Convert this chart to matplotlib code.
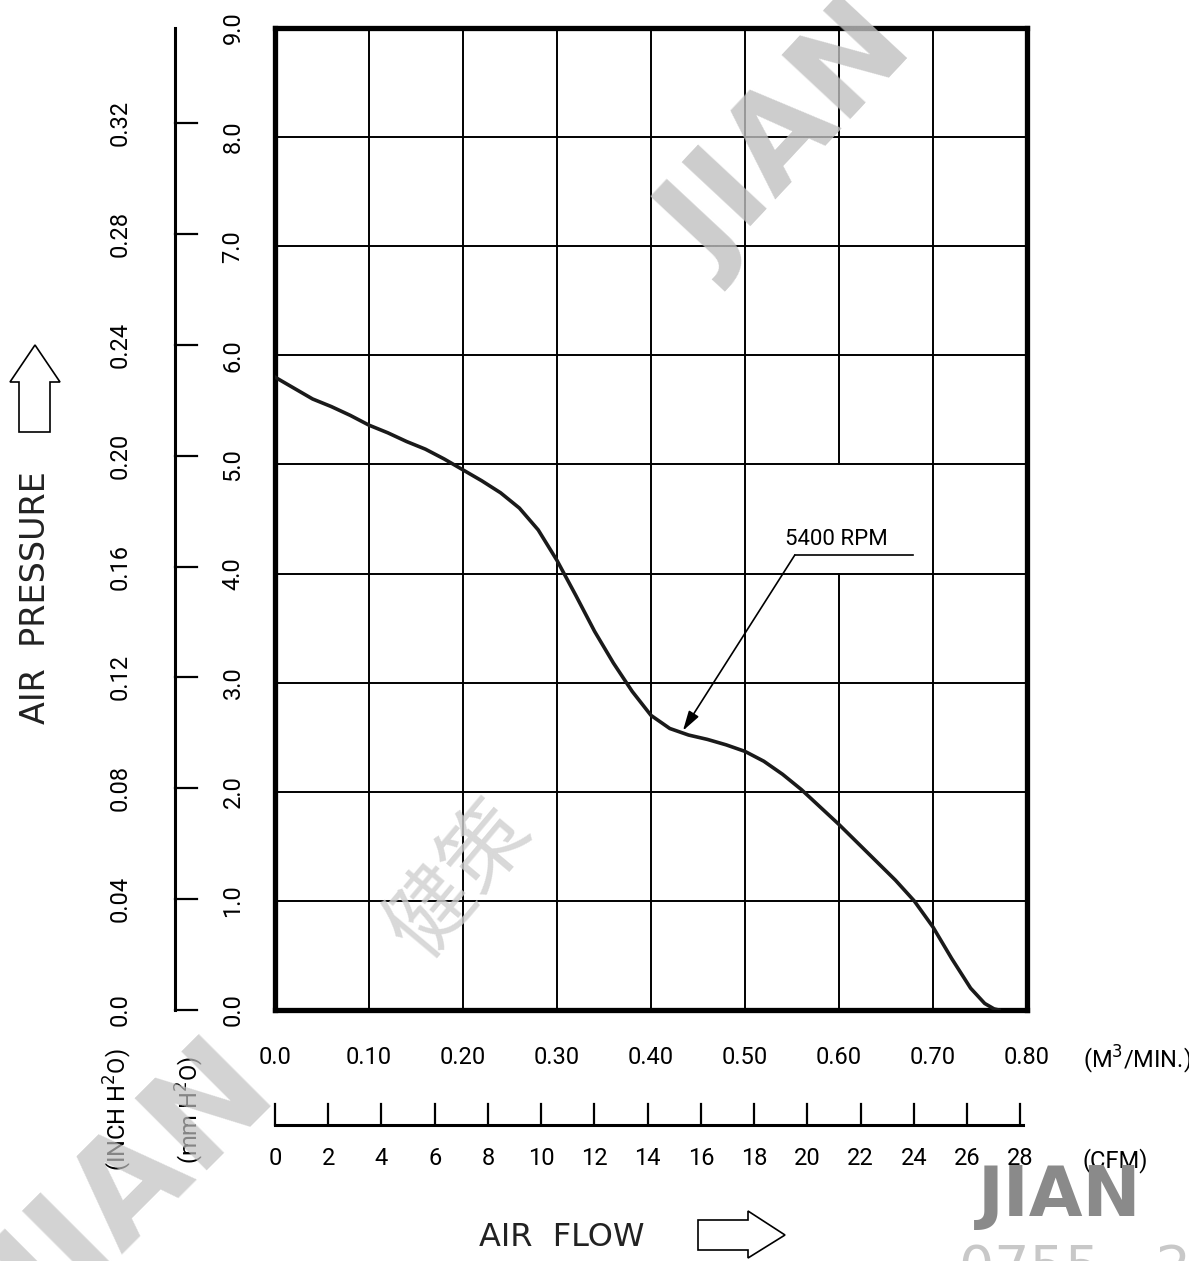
import numpy as np
import matplotlib
matplotlib.use("Agg")
import matplotlib.pyplot as plt
from matplotlib.patches import Polygon

# P-Q curve, 5400 RPM (flow in m3/min, pressure in mm H2O)
flow = [0.0, 0.02, 0.04, 0.06, 0.08, 0.10, 0.12, 0.14, 0.16, 0.18, 0.20,
        0.22, 0.24, 0.26, 0.28, 0.30, 0.32, 0.34, 0.36, 0.38, 0.40, 0.42,
        0.44, 0.46, 0.48, 0.50, 0.52, 0.54, 0.56, 0.58, 0.60, 0.62, 0.64,
        0.66, 0.68, 0.70, 0.72, 0.74, 0.755, 0.765, 0.77]
pressure = [5.80, 5.70, 5.60, 5.53, 5.45, 5.36, 5.29, 5.21, 5.14, 5.05, 4.95,
            4.85, 4.74, 4.60, 4.40, 4.12, 3.80, 3.47, 3.18, 2.92, 2.70, 2.58,
            2.52, 2.48, 2.43, 2.37, 2.28, 2.16, 2.02, 1.86, 1.70, 1.53, 1.36,
            1.19, 1.00, 0.76, 0.47, 0.20, 0.06, 0.01, 0.0]

mm_ticks = [0.0, 1.0, 2.0, 3.0, 4.0, 5.0, 6.0, 7.0, 8.0, 9.0]
inch_ticks = [0.0, 0.04, 0.08, 0.12, 0.16, 0.20, 0.24, 0.28, 0.32]
m3_ticks = [0.0, 0.10, 0.20, 0.30, 0.40, 0.50, 0.60, 0.70, 0.80]
cfm_ticks = [0, 2, 4, 6, 8, 10, 12, 14, 16, 18, 20, 22, 24, 26, 28]
rpm_label = "5400 RPM"

NUM = ["Roboto", "DejaVu Sans"]
FS = 17
W, H = 1189, 1261
fig = plt.figure(figsize=(W / 100, H / 100), dpi=100)
ax = fig.add_axes([275 / W, (H - 1010) / H, 752 / W, 982 / H])
ax.set_xlim(0, 0.8)
ax.set_ylim(0, 9)
ax.set_xticks([])
ax.set_yticks([])
for s in ax.spines.values():
    s.set_linewidth(3.8)

# grid (0.60 line is broken where the label sits)
for x in m3_ticks[1:-1]:
    if abs(x - 0.60) < 1e-9:
        ax.plot([x, x], [0, 4], color="k", lw=1.4, zorder=1)
        ax.plot([x, x], [5, 9], color="k", lw=1.4, zorder=1)
    else:
        ax.axvline(x, color="k", lw=1.4, zorder=1)
for y in mm_ticks[1:-1]:
    ax.axhline(y, color="k", lw=1.4, zorder=1)

ax.plot(flow, pressure, color="#1a1a1a", lw=2.6, zorder=3)

# label with leader
ax.plot([0.553, 0.679], [4.17, 4.17], color="k", lw=1.2)
ax.annotate("", xy=(0.434, 2.56), xytext=(0.553, 4.17),
            arrowprops=dict(arrowstyle="-|>,head_length=1.2,head_width=0.35",
                            color="k", lw=1.2, shrinkA=0, shrinkB=0))
ax.text(0.597, 4.31, rpm_label, ha="center", va="center", fontsize=16, family=NUM)

ytr = ax.get_yaxis_transform()
xtr = ax.get_xaxis_transform()

# mm H2O labels
for v in mm_ticks:
    ax.text(-0.056, v, f"{v:.1f}", transform=ytr, rotation=90, ha="center",
            va="center", fontsize=FS, family=NUM, clip_on=False)

# inch H2O axis
ix = -0.133
ax.plot([ix, ix], [0, 9], transform=ytr, color="k", lw=2.2, clip_on=False)
for v in inch_ticks:
    y = v * 25.4
    ax.plot([ix, -0.104], [y, y], transform=ytr, color="k", lw=1.6, clip_on=False)
    ax.text(-0.206, y, f"{v:.2f}" if v else "0.0", transform=ytr, rotation=90,
            ha="center", va="center", fontsize=FS, family=NUM, clip_on=False)

# m3/min labels
for v in m3_ticks:
    ax.text(v, -0.048, f"{v:.2f}" if v else "0.0", transform=xtr, ha="center",
            va="center", fontsize=FS, family=NUM, clip_on=False)
ax.text(1.146, -0.051, r"(M$^3$/MIN.)", transform=ax.transAxes, ha="center",
        va="center", fontsize=FS, family=NUM, clip_on=False)

# CFM axis
cy = -0.117
c2m = 0.0283168
ax.plot([0, cfm_ticks[-1] * c2m + 0.003], [cy, cy], transform=xtr, color="k",
        lw=2.2, clip_on=False)
for v in cfm_ticks:
    ax.plot([v * c2m, v * c2m], [cy, -0.096], transform=xtr, color="k", lw=1.6,
            clip_on=False)
    ax.text(v * c2m, -0.151, str(v), transform=xtr, ha="center", va="center",
            fontsize=FS, family=NUM, clip_on=False)
ax.text(1.117, -0.153, "(CFM)", transform=ax.transAxes, ha="center",
        va="center", fontsize=FS, family=NUM, clip_on=False)

ax.text(-0.209, -0.102, r"(INCH H$^2$O)", transform=ax.transAxes, rotation=90,
        ha="center", va="center", fontsize=FS, family=NUM, clip_on=False)
ax.text(-0.113, -0.102, r"(mm H$^2$O)", transform=ax.transAxes, rotation=90,
        ha="center", va="center", fontsize=FS, family=NUM, clip_on=False)

# overlay in pixel coordinates for titles, arrows and watermarks
ov = fig.add_axes([0, 0, 1, 1], zorder=5)
ov.set_xlim(0, W)
ov.set_ylim(H, 0)
ov.axis("off")
ov.patch.set_alpha(0)

ov.text(36, 598, "AIR  PRESSURE", rotation=90, ha="center", va="center",
        fontsize=24, color="#222222")
ov.text(562, 1237, "AIR  FLOW", ha="center", va="center", fontsize=23,
        color="#222222")
ov.add_patch(Polygon([(19, 432), (50, 432), (50, 382), (60, 382), (35, 345),
                      (10, 382), (19, 382)], closed=True, fill=False, lw=1.2))
ov.add_patch(Polygon([(698, 1220), (748, 1220), (748, 1211), (785, 1235),
                      (748, 1258), (748, 1250), (698, 1250)], closed=True,
                     fill=False, lw=1.2))

# watermarks
ov.text(790, 140, "JIAN", rotation=47, ha="center", va="center", fontsize=92,
        fontweight="bold", color="#c0c0c0", alpha=0.8, clip_on=True)
ov.text(140, 1190, "JIAN", rotation=45, ha="center", va="center", fontsize=100,
        fontweight="bold", color="#c0c0c0", alpha=0.7, clip_on=True)
ov.text(460, 880, "健策", rotation=50, ha="center", va="center", fontsize=62,
        family=["Noto Sans CJK SC", "DejaVu Sans"], color="#cfcfcf", alpha=0.8)
ov.text(1060, 1196, "JIAN", ha="center", va="center", fontsize=50,
        fontweight="bold", color="#8a8a8a")
ov.text(1075, 1270, "0755 - 2", ha="center", va="center", fontsize=40,
        color="#c8c8c8", clip_on=True)

fig.savefig("out.png", dpi=100)
